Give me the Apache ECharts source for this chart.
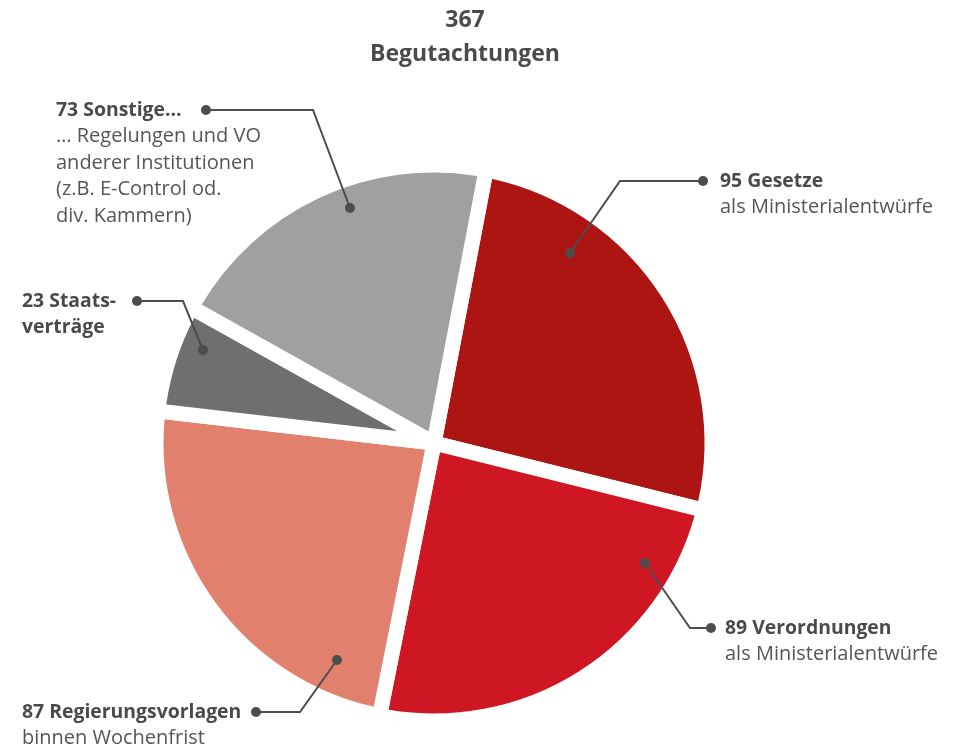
<!DOCTYPE html>
<html>
<head>
<meta charset="utf-8">
<script src="https://cdn.jsdelivr.net/npm/echarts@6/dist/echarts.min.js"></script>
<style>
  html, body { margin: 0; padding: 0; background: #fff; }
  #main { width: 959px; height: 745px; }
</style>
</head>
<body>
<div id="main"></div>
<script>
// Daten
var categories = ['Gesetze', 'Verordnungen', 'Regierungsvorlagen', 'Staats-\nverträge', 'Sonstige…'];
var values = [95, 89, 87, 23, 73];
var notes = [
  'als Ministerialentwürfe',
  'als Ministerialentwürfe',
  'binnen Wochenfrist',
  '',
  '… Regelungen und VO\nanderer Institutionen\n(z.B. E-Control od.\ndiv. Kammern)'
];
var colors = ['#ad1513', '#cf1723', '#e0806d', '#6f6f6f', '#a0a09e'];
var total = values.reduce(function (a, b) { return a + b; }, 0);

// Führungslinien: Punkt im Segment, Knick, Endpunkt, Textposition
var leaders = [
  { p: [570, 253], k: [620, 181], e: [703, 181], t: [720, 168] },
  { p: [645, 563], k: [690, 628], e: [711, 628], t: [725, 615] },
  { p: [337, 660], k: [300, 712], e: [256, 712], t: [22, 699] },
  { p: [203, 350], k: [183, 301], e: [137, 301], t: [22, 288] },
  { p: [350, 208], k: [313, 110], e: [206, 110], t: [56, 97] }
];

var font = '"Open Sans", Roboto, sans-serif';

function labelText(i) {
  var lines = (values[i] + ' ' + categories[i]).split('\n');
  var out = lines.map(function (l) { return '{b|' + l + '}'; });
  if (notes[i]) {
    notes[i].split('\n').forEach(function (l) { out.push('{r|' + l + '}'); });
  }
  return out.join('\n');
}

// Linien und Punkte über den Segmenten
var marks = [];
leaders.forEach(function (l) {
  marks.push({
    type: 'polyline',
    z: 100,
    shape: { points: [l.p, l.k, l.e] },
    style: { stroke: '#4d4d4d', lineWidth: 2, fill: null }
  });
  [l.p, l.e].forEach(function (pt) {
    marks.push({
      type: 'circle',
      z: 101,
      shape: { cx: pt[0], cy: pt[1], r: 5 },
      style: { fill: '#4d4d4d' }
    });
  });
});

var option = {
  title: {
    text: total + '\nBegutachtungen',
    left: 460,
    top: -2,
    textAlign: 'center',
    textStyle: {
      fontFamily: font,
      fontSize: 23,
      fontWeight: 'bold',
      color: '#4a4a4a',
      lineHeight: 34
    }
  },
  graphic: marks,
  series: [
    {
      type: 'pie',
      center: [434, 443],
      radius: 278,
      startAngle: 79.2,
      clockwise: true,
      avoidLabelOverlap: false,
      animation: false,
      itemStyle: {
        borderColor: '#ffffff',
        borderWidth: 15,
        borderRadius: 8
      },
      label: {
        show: true,
        position: 'outside',
        formatter: function (p) { return labelText(p.dataIndex); },
        rich: {
          b: { fontFamily: font, fontSize: 19.4, fontWeight: 'bold', color: '#4a4a4a', lineHeight: 26.5 },
          r: { fontFamily: font, fontSize: 20, color: '#555555', lineHeight: 26.5 }
        }
      },
      labelLine: { show: false },
      labelLayout: function (params) {
        var l = leaders[params.dataIndex];
        return {
          x: l.t[0],
          y: l.t[1],
          align: 'left',
          verticalAlign: 'top'
        };
      },
      data: values.map(function (v, i) {
        return { name: categories[i], value: v, itemStyle: { color: colors[i] } };
      })
    }
  ]
};

var myChart = echarts.init(document.getElementById('main'));
myChart.setOption(option);
</script>
</body>
</html>
